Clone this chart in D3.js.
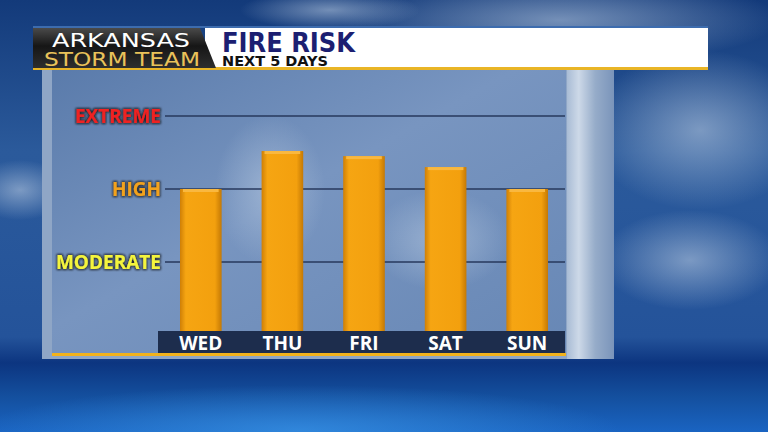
<!DOCTYPE html>
<meta charset="utf-8">
<script src="https://cdn.jsdelivr.net/npm/d3@7"></script>
<style>
body { margin: 0; background: #0a2a66; }
svg { display: block; }
text { font-family: "Open Sans", sans-serif; font-weight: 700; }
</style>
<body>
<script>

// chart data
var days = ["WED", "THU", "FRI", "SAT", "SUN"];
var risk = [2.0, 2.52, 2.45, 2.3, 2.0];
var levels = ["MODERATE", "HIGH", "EXTREME"];
var levelVals = [1, 2, 3];
var levelColors = ["#f4f43c", "#f2a21e", "#ee2020"];

var width = 768,
    height = 432;

var svg = d3.select("body").append("svg")
    .attr("width", width)
    .attr("height", height);

var defs = svg.append("defs");

function grad(id, x2, y2, stops) {
  var g = defs.append("linearGradient").attr("id", id)
      .attr("x1", 0).attr("y1", 0).attr("x2", x2).attr("y2", y2);
  stops.forEach(function(s) {
    g.append("stop").attr("offset", s[0]).attr("stop-color", s[1]);
  });
}

// sky + sea
grad("sky", 0, 1, [["0%", "#133a7a"], ["35%", "#2b5a9b"], ["78%", "#24539a"],
                   ["84%", "#0c3580"], ["92%", "#14509f"], ["100%", "#1a64c2"]]);
grad("panel", 1, 1, [["0%", "#5a7bab"], ["45%", "#7895c0"], ["100%", "#6787b5"]]);
grad("glass", 1, 0, [["0%", "#a9bcd5"], ["25%", "#cdd9e8"], ["60%", "#96acc9"], ["100%", "#7a94ba"]]);
grad("hdr", 0, 1, [["0%", "#4a4a4a"], ["45%", "#161616"], ["100%", "#2e2e2e"]]);
grad("bar", 1, 0, [["0%", "#cf7f06"], ["14%", "#f6a512"], ["84%", "#f3a00e"], ["100%", "#c47905"]]);

var cloud = defs.append("radialGradient").attr("id", "cloud");
cloud.append("stop").attr("offset", "0%").attr("stop-color", "#b3c6de").attr("stop-opacity", 0.6);
cloud.append("stop").attr("offset", "100%").attr("stop-color", "#b3c6de").attr("stop-opacity", 0);

var sea = defs.append("radialGradient").attr("id", "sea");
sea.append("stop").attr("offset", "0%").attr("stop-color", "#3a95e6").attr("stop-opacity", 0.7);
sea.append("stop").attr("offset", "100%").attr("stop-color", "#3a95e6").attr("stop-opacity", 0);

var shadow = defs.append("filter").attr("id", "shadow")
    .attr("x", "-20%").attr("y", "-40%").attr("width", "140%").attr("height", "180%");
shadow.append("feMorphology").attr("in", "SourceAlpha").attr("operator", "dilate")
    .attr("radius", 1).attr("result", "d");
shadow.append("feGaussianBlur").attr("in", "d").attr("stdDeviation", 1).attr("result", "b");
shadow.append("feFlood").attr("flood-color", "#111").attr("flood-opacity", 0.8);
shadow.append("feComposite").attr("in2", "b").attr("operator", "in").attr("result", "s");
var merge = shadow.append("feMerge");
merge.append("feMergeNode").attr("in", "s");
merge.append("feMergeNode").attr("in", "SourceGraphic");

svg.append("rect").attr("width", width).attr("height", height).attr("fill", "url(#sky)");

// soft clouds
var clouds = [[560, 20, 220, 45], [700, 130, 110, 80], [690, 260, 90, 50], [20, 190, 50, 30], [330, 10, 90, 20]];
svg.selectAll(".cloud").data(clouds).enter().append("ellipse")
    .attr("cx", function(d) { return d[0]; })
    .attr("cy", function(d) { return d[1]; })
    .attr("rx", function(d) { return d[2]; })
    .attr("ry", function(d) { return d[3]; })
    .attr("fill", "url(#cloud)");
svg.append("ellipse").attr("cx", 300).attr("cy", 430).attr("rx", 320).attr("ry", 45)
    .attr("fill", "url(#sea)");

// main panel
svg.append("rect").attr("x", 42).attr("y", 68).attr("width", 572).attr("height", 291)
    .attr("fill", "#8fa6c6");
svg.append("rect").attr("x", 52).attr("y", 70).attr("width", 514).attr("height", 286)
    .attr("fill", "url(#panel)");
svg.append("rect").attr("x", 567).attr("y", 70).attr("width", 47).attr("height", 289)
    .attr("fill", "url(#glass)");
svg.append("ellipse").attr("cx", 270).attr("cy", 190).attr("rx", 55).attr("ry", 75)
    .attr("fill", "url(#cloud)");
svg.append("ellipse").attr("cx", 440).attr("cy", 240).attr("rx", 70).attr("ry", 50)
    .attr("fill", "url(#cloud)");

// scales
var x = d3.scaleBand().domain(days).range([160, 568]).paddingInner(0.49).paddingOuter(0.245);
var y = d3.scaleLinear().domain([0, 3]).range([335, 116]);

// grid lines
svg.append("g").selectAll("line").data(levelVals).enter().append("line")
    .attr("x1", 165).attr("x2", 565)
    .attr("y1", function(d) { return y(d); })
    .attr("y2", function(d) { return y(d); })
    .attr("stroke", "#27395c").attr("stroke-width", 1.3);

// level labels
svg.append("g").selectAll("text").data(levels).enter().append("text")
    .attr("x", 161)
    .attr("y", function(d, i) { return y(levelVals[i]) + 7; })
    .attr("text-anchor", "end")
    .attr("font-size", 19)
    .attr("fill", function(d, i) { return levelColors[i]; })
    .attr("filter", "url(#shadow)")
    .text(function(d) { return d; });

// bars
var bars = svg.append("g").selectAll("g").data(risk).enter().append("g");
bars.append("rect")
    .attr("x", function(d, i) { return x(days[i]); })
    .attr("y", function(d) { return y(d); })
    .attr("width", x.bandwidth())
    .attr("height", function(d) { return 335 - y(d); })
    .attr("fill", "url(#bar)");
bars.append("rect")
    .attr("x", function(d, i) { return x(days[i]) + 3; })
    .attr("y", function(d) { return y(d); })
    .attr("width", x.bandwidth() - 6)
    .attr("height", 3)
    .attr("fill", "#f9b840");

// day label strip
svg.append("rect").attr("x", 158).attr("y", 331).attr("width", 407).attr("height", 22)
    .attr("fill", "#1d2d4d");
svg.append("rect").attr("x", 52).attr("y", 353).attr("width", 514).attr("height", 3)
    .attr("fill", "#f2b21c");

svg.append("g").selectAll("text").data(days).enter().append("text")
    .attr("x", function(d) { return x(d) + x.bandwidth() / 2; })
    .attr("y", 350)
    .attr("text-anchor", "middle")
    .attr("font-size", 19)
    .attr("fill", "#fff")
    .text(function(d) { return d; });

// header bar
svg.append("rect").attr("x", 33).attr("y", 26).attr("width", 675).attr("height", 2)
    .attr("fill", "#3d6cae");
svg.append("rect").attr("x", 205).attr("y", 28).attr("width", 503).attr("height", 40)
    .attr("fill", "#fff");
svg.append("rect").attr("x", 33).attr("y", 67).attr("width", 675).attr("height", 3)
    .attr("fill", "#e9b526");
svg.append("path")
    .attr("d", "M33,28 L200,28 L216,68 L33,68 Z")
    .attr("fill", "url(#hdr)");

svg.append("text").attr("x", 52).attr("y", 47)
    .attr("font-size", 19)
    .attr("fill", "#fff")
    .attr("textLength", 138).attr("lengthAdjust", "spacingAndGlyphs")
    .style("font-family", "'DejaVu Sans', sans-serif")
    .style("font-weight", 400)
    .text("ARKANSAS");
svg.append("text").attr("x", 44).attr("y", 66)
    .attr("font-size", 19)
    .attr("fill", "#e9c25a")
    .attr("textLength", 156).attr("lengthAdjust", "spacingAndGlyphs")
    .style("font-family", "'DejaVu Sans', sans-serif")
    .style("font-weight", 400)
    .text("STORM TEAM");

svg.append("text").attr("x", 222).attr("y", 52)
    .attr("font-size", 27).attr("fill", "#1c1f72")
    .attr("textLength", 133).attr("lengthAdjust", "spacingAndGlyphs")
    .style("font-family", "'DejaVu Sans Condensed', 'Open Sans', sans-serif")
    .text("FIRE RISK");
svg.append("text").attr("x", 222).attr("y", 66)
    .attr("font-size", 14.5).attr("fill", "#111")
    .attr("textLength", 106).attr("lengthAdjust", "spacingAndGlyphs")
    .style("font-family", "'DejaVu Sans Condensed', 'Open Sans', sans-serif")
    .text("NEXT 5 DAYS");

</script>
</body>
